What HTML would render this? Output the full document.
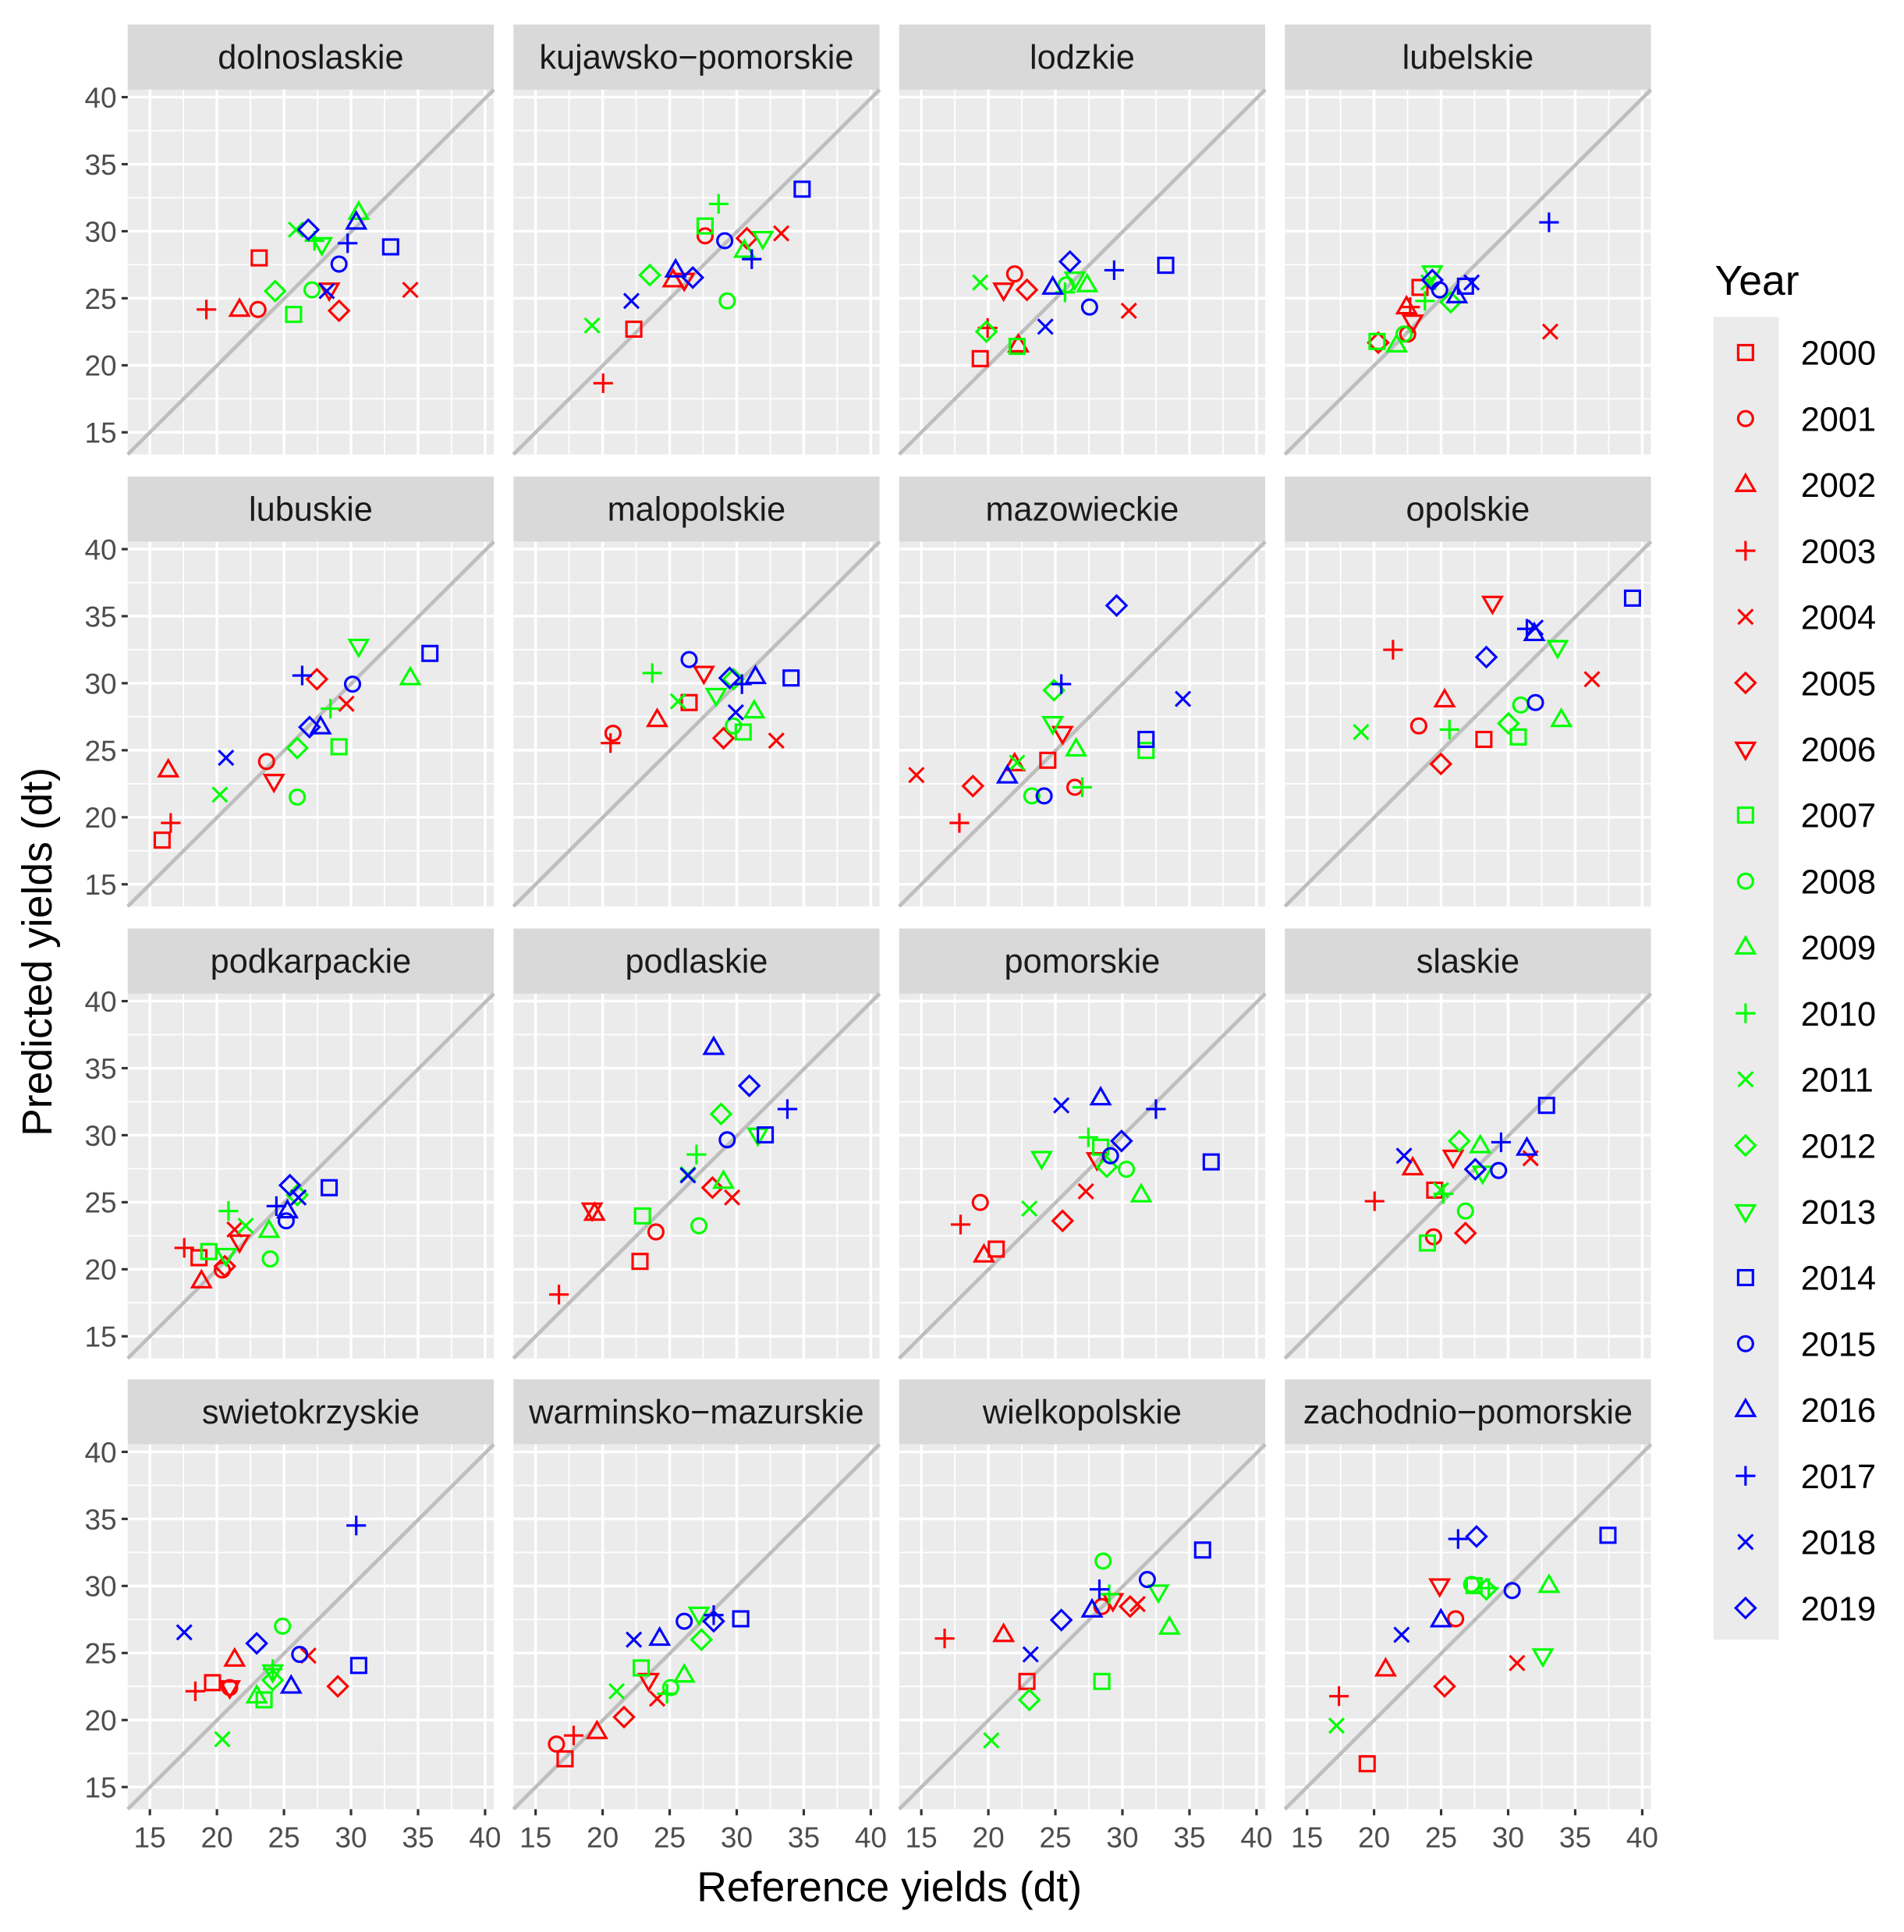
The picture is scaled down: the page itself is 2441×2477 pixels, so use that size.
<!DOCTYPE html>
<html><head><meta charset="utf-8"><style>
html,body{margin:0;padding:0;background:#fff}
svg{display:block}
text{font-family:"Liberation Sans",Arial,sans-serif}
</style></head><body>
<svg id="s" width="2441" height="2477" viewBox="0 0 1550 1573" preserveAspectRatio="none" xmlns="http://www.w3.org/2000/svg"></svg>
<script>
const S=document.getElementById('s');let h='';
const cols=[104,418,732,1046],rows=[73,441,809,1176],W=298,H=297;
const strips=[20,388,756,1123];
const names=["dolnoslaskie","kujawsko\u2212pomorskie","lodzkie","lubelskie","lubuskie","malopolskie","mazowieckie","opolskie","podkarpackie","podlaskie","pomorskie","slaskie","swietokrzyskie","warminsko\u2212mazurskie","wielkopolskie","zachodnio\u2212pomorskie"];
const sc=W/27.3;
for(let r=0;r<4;r++)for(let c=0;c<4;c++){
 const x0=cols[c],y0=rows[r],i=r*4+c;
 h+=`<rect x="${x0}" y="${strips[r]}" width="${W}" height="${y0-strips[r]}" fill="#D9D9D9"/>`;
 h+=`<text x="${x0+W/2}" y="${strips[r]+36}" font-size="27.5" fill="#1A1A1A" text-anchor="middle">${names[i]}</text>`;
 h+=`<rect x="${x0}" y="${y0}" width="${W}" height="${H}" fill="#EBEBEB"/>`;
 for(let v=12.5;v<=42.5;v+=2.5){const major=(v%5===0);
  const px=x0+(v-13.35)*sc, py=y0+H-(v-13.35)*sc;
  if(px>=x0&&px<=x0+W)h+=`<line x1="${px}" y1="${y0}" x2="${px}" y2="${y0+H}" stroke="#fff" stroke-width="${major?2.2:1.1}"/>`;
  if(py>=y0&&py<=y0+H)h+=`<line x1="${x0}" y1="${py}" x2="${x0+W}" y2="${py}" stroke="#fff" stroke-width="${major?2.2:1.1}"/>`;
  if(major&&v>=15&&v<=40){
   if(c==0){h+=`<line x1="${x0-5}" y1="${py}" x2="${x0}" y2="${py}" stroke="#333" stroke-width="2"/><text x="${x0-9}" y="${py+8.5}" font-size="23.5" fill="#4D4D4D" text-anchor="end">${v}</text>`;}
   if(r==3){h+=`<line x1="${px}" y1="${y0+H}" x2="${px}" y2="${y0+H+5}" stroke="#333" stroke-width="2"/><text x="${px}" y="${y0+H+31}" font-size="23.5" fill="#4D4D4D" text-anchor="middle">${v}</text>`;}
  }}
 h+=`<line x1="${x0}" y1="${y0+H}" x2="${x0+W}" y2="${y0}" stroke="#BEBEBE" stroke-width="3"/>`;
}
function col(y){return y<7?'#FF0000':y<14?'#00FF00':'#0000FF'}
function mk(x,y,yr){const s=yr%7,c=col(yr),a=`fill="none" stroke="${c}" stroke-width="2"`;
 switch(s){
 case 0:return `<rect x="${x-6}" y="${y-6}" width="12" height="12" ${a}/>`;
 case 1:return `<circle cx="${x}" cy="${y}" r="6" ${a}/>`;
 case 2:return `<polygon points="${x},${y-8} ${x+7.5},${y+5} ${x-7.5},${y+5}" ${a}/>`;
 case 3:return `<path d="M${x-8},${y}H${x+8}M${x},${y-8}V${y+8}" ${a}/>`;
 case 4:return `<path d="M${x-6},${y-6}L${x+6},${y+6}M${x-6},${y+6}L${x+6},${y-6}" ${a}/>`;
 case 5:return `<polygon points="${x},${y-8} ${x+8},${y} ${x},${y+8} ${x-8},${y}" ${a}/>`;
 case 6:return `<polygon points="${x},${y+8} ${x+7.5},${y-5} ${x-7.5},${y-5}" ${a}/>`;}}
const P=[
[[211,210],[210,252],[195,252],[168,252],[334,236],[276,253],[268,236],[239,256],[254,236],[292,173],[256,196],[241,187],[224,237],[262,199],[318,201],[276,215],[290,181],[283,198],[266,237],[251,187]],
[[516,268],[574,192],[548,228],[491,312],[636,190],[608,194],[557,228],[574,184],[592,245],[606,204],[585,166],[482,265],[529,224],[621,194],[653,154],[590,196],[550,220],[612,211],[514,245],[564,226]],
[[798,292],[826,223],[829,281],[804,267],[919,253],[836,236],[817,236],[828,282],[868,232],[885,232],[867,238],[798,230],[803,270],[875,227],[949,216],[887,250],[857,234],[907,220],[851,266],[871,213]],
[[1156,234],[1146,272],[1145,250],[1148,250],[1262,270],[1122,279],[1150,262],[1121,278],[1143,272],[1137,281],[1160,245],[1163,230],[1181,246],[1166,222],[1193,233],[1172,236],[1186,241],[1261,181],[1198,230],[1166,228]],
[[132,684],[217,620],[137,627],[139,670],[282,573],[258,553],[223,636],[276,608],[242,649],[334,552],[269,577],[179,647],[242,609],[292,526],[350,532],[287,557],[261,592],[246,550],[184,617],[252,592]],
[[561,572],[499,597],[535,586],[497,605],[632,603],[589,601],[573,548],[605,596],[597,591],[614,579],[531,548],[552,571],[597,553],[583,566],[644,552],[561,537],[615,551],[604,557],[599,580],[594,552]],
[[853,619],[875,641],[826,622],[781,670],[746,631],[792,640],[865,597],[933,611],[840,648],[876,610],[881,641],[828,621],[858,562],[857,589],[933,602],[850,648],[820,632],[864,557],[963,569],[909,493]],
[[1208,602],[1155,591],[1176,570],[1134,529],[1296,553],[1173,622],[1215,491],[1236,600],[1238,574],[1271,586],[1180,594],[1108,596],[1228,589],[1268,527],[1329,487],[1250,572],[1249,516],[1243,512],[1250,511],[1210,535]],
[[162,1024],[181,1034],[164,1043],[150,1016],[191,1001],[183,1031],[195,1011],[170,1019],[220,1025],[219,1002],[186,986],[200,998],[242,973],[184,1022],[268,967],[233,994],[234,986],[225,982],[243,975],[236,965]],
[[521,1027],[534,1003],[484,988],[455,1054],[596,975],[580,967],[482,985],[523,990],[569,998],[589,962],[567,940],[560,956],[587,907],[617,924],[623,924],[592,928],[581,853],[641,903],[560,957],[610,884]],
[[811,1017],[798,979],[801,1022],[782,997],[884,970],[865,994],[893,944],[896,934],[917,952],[929,973],[886,926],[838,984],[901,950],[848,943],[986,946],[904,941],[896,894],[941,903],[864,900],[913,929]],
[[1168,969],[1167,1007],[1150,951],[1119,978],[1246,943],[1193,1004],[1183,942],[1162,1012],[1193,986],[1205,933],[1175,972],[1173,969],[1188,929],[1207,955],[1259,900],[1220,953],[1243,935],[1222,930],[1143,941],[1201,952]],
[[173,1370],[187,1374],[191,1351],[159,1377],[251,1348],[275,1373],[187,1374],[215,1384],[230,1324],[209,1381],[222,1359],[181,1416],[222,1368],[222,1361],[292,1356],[244,1347],[237,1373],[290,1242],[150,1329],[209,1338]],
[[460,1432],[453,1420],[486,1410],[467,1413],[535,1383],[508,1398],[528,1368],[522,1358],[546,1374],[557,1364],[543,1379],[502,1377],[571,1335],[569,1314],[603,1318],[557,1320],[537,1334],[581,1315],[516,1335],[581,1320]],
[[836,1369],[897,1308],[817,1331],[769,1334],[926,1306],[920,1308],[906,1303],[897,1369],[898,1271],[952,1325],[903,1298],[807,1417],[838,1384],[943,1296],[979,1262],[934,1286],[889,1311],[895,1294],[839,1347],[864,1319]],
[[1113,1436],[1185,1318],[1128,1359],[1090,1381],[1235,1354],[1176,1373],[1172,1291],[1200,1291],[1198,1290],[1261,1291],[1212,1293],[1088,1405],[1210,1294],[1256,1348],[1309,1250],[1231,1295],[1173,1319],[1187,1253],[1141,1331],[1202,1251]]];
P.forEach(p=>p.forEach((q,yr)=>{h+=mk(q[0],q[1],yr)}));
h+=`<text x="1396" y="240" font-size="34" fill="#000">Year</text>`;
h+=`<rect x="1395" y="258" width="53" height="1077" fill="#EBEBEB"/>`;
for(let y=0;y<20;y++){const cy=287+y*53.8;h+=mk(1421,cy,y);h+=`<text x="1466" y="${cy+10}" font-size="27.5" fill="#000">${2000+y}</text>`;}
h+=`<text x="724" y="1548" font-size="34" fill="#000" text-anchor="middle">Reference yields (dt)</text>`;
h+=`<text transform="translate(42,775) rotate(-90)" font-size="34" fill="#000" text-anchor="middle">Predicted yields (dt)</text>`;
S.innerHTML=h;
</script>
</body></html>
